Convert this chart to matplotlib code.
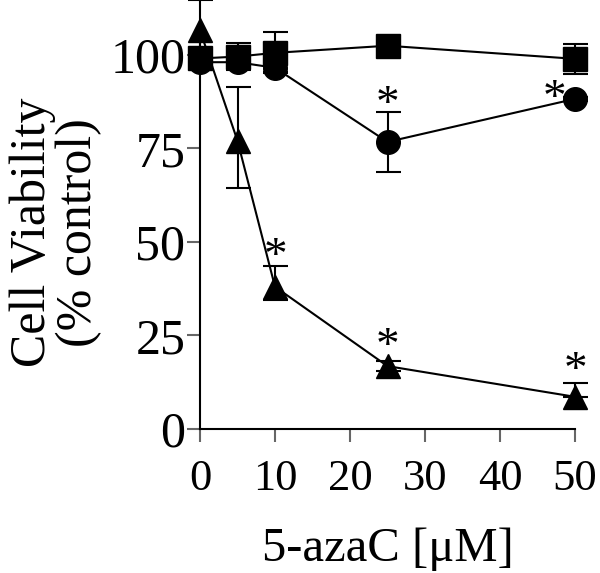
import matplotlib
matplotlib.use("Agg")
import matplotlib.pyplot as plt

plt.rcParams['font.family'] = ['Liberation Serif', 'DejaVu Serif']

# 5-azaC concentrations (uM)
conc = [0, 5, 10, 25, 50]

# squares
sq_val = [99, 99.5, 100.5, 102.4, 98.9]
sq_err = [1.5, 3.5, 5.5, 0.5, 4.0]

# circles
ci_val = [98, 98, 96.5, 76.7, 88.2]
ci_err = [1.0, 1.0, 1.0, 8.0, 0.5]

# triangles
tr_val = [106.5, 77, 38, 16.8, 8.6]
tr_err_lo = [8, 12.5, 3.5, 1.4, 0]
tr_err_hi = [8, 14.5, 5.5, 1.4, 3.7]

# significance stars (x, y of star centre)
star_x = [25, 47.3, 10, 25, 50]
star_y = [89.8, 91.4, 49, 25, 18.7]

fig = plt.figure(figsize=(6, 5.73), dpi=100)
ax = fig.add_axes([200/600, 144/573, 375/600, 393/573])

style = dict(color='black', lw=1.5, ms=17, capsize=9, elinewidth=1.5,
             capthick=1.5, clip_on=False)
series = [(tr_val, [tr_err_lo, tr_err_hi], '-^'),
          (ci_val, ci_err, '-o'),
          (sq_val, sq_err, '-s')]
for vals, err, fmt in series:
    cont = ax.errorbar(conc, vals, yerr=err, fmt=fmt, **style)
    for group in cont[1:]:
        for art in group:
            art.set_clip_on(False)

for x, y in zip(star_x, star_y):
    ax.annotate('*', (x, y), xytext=(0, -17), textcoords='offset points',
                ha='center', va='baseline', fontsize=34)

ax.set_xlim(0, 50)
ax.set_ylim(0, 105)
ax.set_xticks([0, 10, 20, 30, 40, 50])
ax.set_yticks([0, 25, 50, 75, 100])

for s in ['top', 'right']:
    ax.spines[s].set_visible(False)
for s in ['left', 'bottom']:
    ax.spines[s].set_linewidth(1.5)

ax.tick_params(direction='out', length=9.5, width=1.5, color='#666666')
ax.tick_params(axis='y', labelsize=36, pad=1)
ax.tick_params(axis='x', labelsize=32, pad=12)

ax.set_xlabel('5-azaC [\u03bcM]', fontsize=35, labelpad=20)
ax.set_ylabel('Cell Viability\n(% control)', fontsize=36, labelpad=6,
              linespacing=1.0)

fig.savefig('out.png', dpi=100)
